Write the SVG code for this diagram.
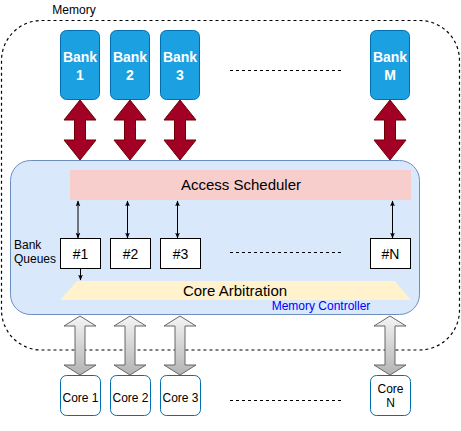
<svg xmlns="http://www.w3.org/2000/svg" width="461" height="431" viewBox="0 0 461 431">
<style>
text{font-family:"Liberation Sans",Arial,sans-serif;}
.bank rect{fill:#1ba1e2;stroke:#006eaf;stroke-width:1;}
.bank text{fill:#ffffff;font-size:14px;font-weight:bold;text-anchor:middle;}
.q rect{fill:#ffffff;stroke:#000000;stroke-width:1;}
.q text{fill:#000000;font-size:14px;text-anchor:middle;}
.core rect{fill:#ffffff;stroke:#006eaf;stroke-width:1;}
.core text{fill:#000000;font-size:12px;text-anchor:middle;}
.red{fill:#a20025;stroke:#6f0000;stroke-width:1;}
.gray{fill:url(#gg);stroke:#666666;stroke-width:1;}
.small{stroke:#000000;stroke-width:1;fill:none;marker-start:url(#ah);marker-end:url(#ah);}
.dots{stroke:#000000;stroke-width:1;stroke-dasharray:3 3;fill:none;}
</style>
<defs>
<linearGradient id="gg" x1="0" y1="0" x2="0" y2="1">
<stop offset="0" stop-color="#f5f5f5"/>
<stop offset="1" stop-color="#b3b3b3"/>
</linearGradient>
<marker id="ah" viewBox="0 0 10 10" refX="9" refY="5" markerWidth="6" markerHeight="6" orient="auto-start-reverse" markerUnits="userSpaceOnUse">
<path d="M0,1 L10,5 L0,9 L2.5,5 Z" fill="#000000"/>
</marker>
</defs>
<g id="memory">
<rect x="1.5" y="20.5" width="458" height="329.5" rx="40" ry="40" fill="none" stroke="#000000" stroke-width="1.2" stroke-dasharray="3 3"/>
<text x="74" y="14" font-size="12" text-anchor="middle" fill="#000000">Memory</text>
</g>
<g id="memory-controller">
<rect x="10.5" y="160.5" width="409" height="154" rx="20" ry="20" fill="#dae8fc" stroke="#6c8ebf" stroke-width="1"/>
<text x="321" y="310" font-size="12" text-anchor="middle" fill="#0000ff">Memory Controller</text>
</g>
<g id="access-scheduler">
<rect x="70" y="170" width="341" height="30" fill="#f8cecc"/>
<text x="241" y="190" font-size="15" text-anchor="middle" fill="#000000">Access Scheduler</text>
</g>
<g id="core-arbitration">
<polygon points="77,281 395,281 411,300 60,300" fill="#fff2cc"/>
<text x="235" y="296" font-size="15" text-anchor="middle" fill="#000000">Core Arbitration</text>
</g>
<g id="bank-queues-label">
<text x="14" y="249" font-size="12" fill="#000000">Bank</text>
<text x="14" y="263" font-size="12" fill="#000000">Queues</text>
</g>
<g id="bank1" class="bank"><rect x="60.5" y="30.5" width="39" height="69" rx="6"/><text x="80" y="62">Bank</text><text x="80" y="80">1</text></g>
<g id="bank2" class="bank"><rect x="110.5" y="30.5" width="39" height="69" rx="6"/><text x="130" y="62">Bank</text><text x="130" y="80">2</text></g>
<g id="bank3" class="bank"><rect x="160.5" y="30.5" width="39" height="69" rx="6"/><text x="180" y="62">Bank</text><text x="180" y="80">3</text></g>
<g id="bankM" class="bank"><rect x="370.5" y="30.5" width="39" height="69" rx="6"/><text x="390" y="62">Bank</text><text x="390" y="80">M</text></g>
<g id="q1" class="q"><rect x="60.5" y="238.5" width="40" height="30"/><text x="80.5" y="258.5">#1</text></g>
<g id="q2" class="q"><rect x="110.5" y="238.5" width="40" height="30"/><text x="130.5" y="258.5">#2</text></g>
<g id="q3" class="q"><rect x="160.5" y="238.5" width="40" height="30"/><text x="180.5" y="258.5">#3</text></g>
<g id="qN" class="q"><rect x="370.5" y="238.5" width="40" height="30"/><text x="390.5" y="258.5">#N</text></g>
<g id="core1" class="core"><rect x="60.5" y="375.5" width="40" height="40" rx="6"/><text x="80.5" y="402">Core 1</text></g>
<g id="core2" class="core"><rect x="110.5" y="375.5" width="40" height="40" rx="6"/><text x="130.5" y="402">Core 2</text></g>
<g id="core3" class="core"><rect x="160.5" y="375.5" width="40" height="40" rx="6"/><text x="180.5" y="402">Core 3</text></g>
<g id="coreN" class="core"><rect x="370.5" y="375.5" width="40" height="40" rx="6"/><text x="390.5" y="393">Core</text><text x="390.5" y="407">N</text></g>
<g id="connectors">
<path class="red" d="M80,100 L96,120 L85.5,120 L85.5,140 L96,140 L80,160 L64,140 L74.5,140 L74.5,120 L64,120 Z"/>
<path class="red" d="M130,100 L146,120 L135.5,120 L135.5,140 L146,140 L130,160 L114,140 L124.5,140 L124.5,120 L114,120 Z"/>
<path class="red" d="M180,100 L196,120 L185.5,120 L185.5,140 L196,140 L180,160 L164,140 L174.5,140 L174.5,120 L164,120 Z"/>
<path class="red" d="M390,100 L406,120 L395.5,120 L395.5,140 L406,140 L390,160 L374,140 L384.5,140 L384.5,120 L374,120 Z"/>
<line class="small" x1="78" y1="201" x2="78" y2="238"/>
<line class="small" x1="127.5" y1="201" x2="127.5" y2="238"/>
<line class="small" x1="177.5" y1="201" x2="177.5" y2="238"/>
<line class="small" x1="392.5" y1="201" x2="392.5" y2="238"/>
<line x1="80.5" y1="269" x2="80.5" y2="280" stroke="#000000" stroke-width="1" marker-end="url(#ah)"/>
<path class="gray" d="M80,316 L96,326 L85,326 L85,365 L96,365 L80,375 L64,365 L75,365 L75,326 L64,326 Z"/>
<path class="gray" d="M130,316 L146,326 L135,326 L135,365 L146,365 L130,375 L114,365 L125,365 L125,326 L114,326 Z"/>
<path class="gray" d="M180,316 L196,326 L185,326 L185,365 L196,365 L180,375 L164,365 L175,365 L175,326 L164,326 Z"/>
<path class="gray" d="M390,316 L406,326 L395,326 L395,365 L406,365 L390,375 L374,365 L385,365 L385,326 L374,326 Z"/>
<line class="dots" x1="230" y1="70.5" x2="341" y2="70.5"/>
<line class="dots" x1="230" y1="252.5" x2="341" y2="252.5" stroke="#666666"/>
<line class="dots" x1="230" y1="400.5" x2="341" y2="400.5"/>
</g>
</svg>
